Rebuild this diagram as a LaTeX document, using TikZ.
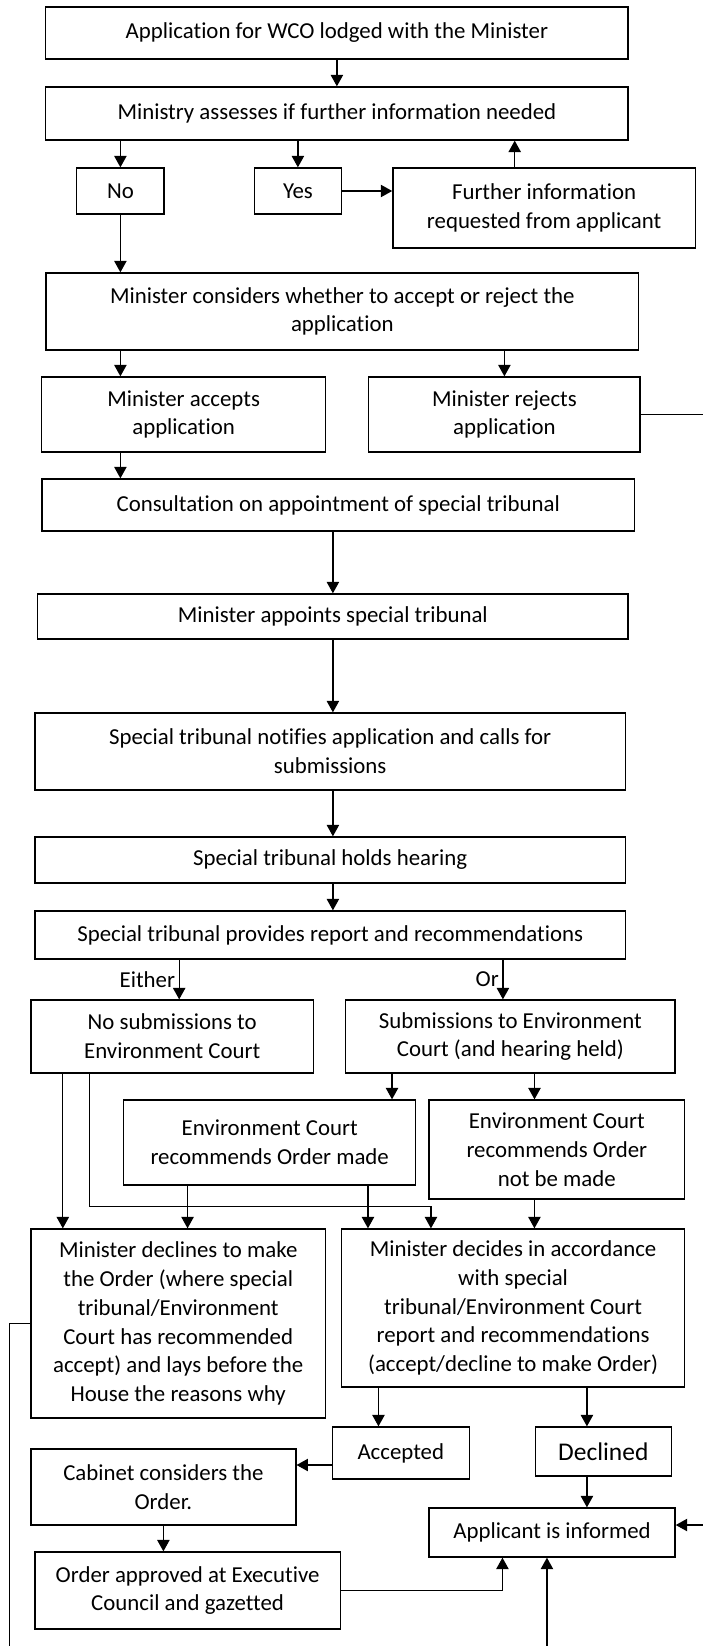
\documentclass[tikz,border=0pt]{standalone}
\usepackage{fontspec}
\setmainfont[Ligatures=NoCommon]{Carlito}
\usetikzlibrary{arrows.meta}

\begin{document}
\begin{tikzpicture}[x=0.02cm,y=-0.02cm,
  box/.style={draw,line width=0.75pt,align=center,inner sep=1pt,font=\fontsize{13}{16.4}\selectfont},
  lab/.style={font=\fontsize{13}{15}\selectfont,inner sep=2pt},
  arr/.style={line width=0.75pt,-{Triangle[width=7pt,length=6.5pt]}}]
\useasboundingbox (0,0) rectangle (703,1646);
\clip (0,0) rectangle (703,1646);

\node[box,minimum width=11.65cm,minimum height=1.04cm] (app) at (336.9,33) {Application for WCO lodged with the Minister};
\node[box,minimum width=11.65cm,minimum height=1.06cm] (assess) at (336.9,113.5) {Ministry assesses if further information needed};
\node[box,minimum width=1.75cm,minimum height=0.92cm] (no) at (120.4,191) {No};
\node[box,minimum width=1.75cm,minimum height=0.92cm] (yes) at (297.9,191) {Yes};
\node[box,minimum width=6.05cm,minimum height=1.60cm] (further) at (544.1,208) {Further information\\requested from applicant};
\node[box,minimum width=11.86cm,minimum height=1.54cm] (consider) at (342.3,311.5) {Minister considers whether to accept or reject the\\application};
\node[box,minimum width=5.68cm,minimum height=1.50cm] (accepts) at (183.6,414.5) {Minister accepts\\application};
\node[box,minimum width=5.43cm,minimum height=1.50cm] (rejects) at (504.4,414.5) {Minister rejects\\application};
\node[box,minimum width=11.86cm,minimum height=1.04cm] (consult) at (338.3,505) {Consultation on appointment of special tribunal};
\node[box,minimum width=11.81cm,minimum height=0.90cm] (appoint) at (332.9,616.5) {Minister appoints special tribunal};
\node[box,minimum width=11.81cm,minimum height=1.54cm] (notify) at (330.2,751.5) {Special tribunal notifies application and calls for\\submissions};
\node[box,minimum width=11.81cm,minimum height=0.92cm] (hearing) at (330.2,860) {Special tribunal holds hearing};
\node[box,minimum width=11.81cm,minimum height=0.96cm] (report) at (330.2,935) {Special tribunal provides report and recommendations};
\node[box,minimum width=5.65cm,minimum height=1.46cm] (nosub) at (172.2,1036.5) {No submissions to\\Environment Court};
\node[box,minimum width=6.59cm,minimum height=1.46cm] (sub) at (510.4,1036.5) {Submissions to Environment\\Court (and hearing held)};
\node[box,minimum width=5.84cm,minimum height=1.70cm] (ecmade) at (269.7,1142.5) {Environment Court\\recommends Order made};
\node[box,minimum width=5.11cm,minimum height=1.98cm] (ecnot) at (556.8,1149.5) {Environment Court\\recommends Order\\not be made};
\node[box,minimum width=5.89cm,minimum height=3.78cm] (declines) at (178.2,1323.5) {Minister declines to make\\the Order (where special\\tribunal/Environment\\Court has recommended\\accept) and lays before the\\House the reasons why};
\node[box,minimum width=6.86cm,minimum height=3.16cm] (decides) at (513.1,1308) {Minister decides in accordance\\with special\\tribunal/Environment Court\\report and recommendations\\(accept/decline to make Order)};
\node[box,minimum width=2.74cm,minimum height=1.04cm] (accepted) at (400.8,1453) {Accepted};
\node[box,minimum width=2.72cm,minimum height=0.98cm,font=\fontsize{14.5}{17}\selectfont] (declined) at (603.3,1451.5) {Declined};
\node[box,minimum width=5.30cm,minimum height=1.52cm] (cabinet) at (163.4,1487) {Cabinet considers the\\Order.};
\node[box,minimum width=6.11cm,minimum height=1.54cm] (order) at (187.6,1590.5) {Order approved at Executive\\Council and gazetted};
\node[box,minimum width=4.92cm,minimum height=0.98cm] (informed) at (552.1,1532.5) {Applicant is informed};

\coordinate (rbend) at (730,0);
\coordinate (lbend) at (9.4,1680);
\coordinate (fu) at ([xshift=2.45cm]further.north west);
\coordinate (ei) at ([xshift=0.14cm]nosub.north);
\coordinate (orr) at ([xshift=-0.15cm]sub.north);
\coordinate (ns1) at ([xshift=0.65cm]nosub.south west);
\coordinate (ns2) at ([xshift=1.18cm]nosub.south west);
\coordinate (s1) at ([xshift=0.94cm]sub.south west);
\coordinate (s2) at ([xshift=3.79cm]sub.south west);
\coordinate (em1) at ([xshift=1.29cm]ecmade.south west);
\coordinate (d2) at ([xshift=1.80cm]decides.north west);
\coordinate (em2) at ([xshift=0.54cm]decides.north west);
\coordinate (en) at ([xshift=3.87cm]decides.north west);
\coordinate (dc1) at ([xshift=0.75cm]decides.south west);
\coordinate (dc2) at ([xshift=4.92cm]decides.south west);
\coordinate (ac) at ([yshift=-0.24cm]accepted.west);
\coordinate (i1) at ([xshift=2.37cm]informed.south west);
\coordinate (i2) at ([xshift=1.48cm]informed.south west);
\coordinate (ie) at ([yshift=0.15cm]informed.east);

\draw[arr] (app.south) -- (assess.north);
\draw[arr] (assess.south -| no.north) -- (no.north);
\draw[arr] (assess.south -| yes.north) -- (yes.north);
\draw[arr] (yes.east) -- (further.west |- yes.east);
\draw[arr] (fu) -- (fu |- assess.south);
\draw[arr] (no.south) -- (no.south |- consider.north);
\draw[arr] (consider.south -| no.south) -- (accepts.north -| no.south);
\draw[arr] (consider.south -| rejects.north) -- (rejects.north);
\draw[arr] (accepts.south -| no.south) -- (consult.north -| no.south);
\draw[arr] (consult.south -| appoint.north) -- (appoint.north);
\draw[arr] (appoint.south) -- (appoint.south |- notify.north);
\draw[arr] (notify.south -| appoint.south) -- (hearing.north -| appoint.south);
\draw[arr] (hearing.south -| appoint.south) -- (report.north -| appoint.south);
\draw[arr] (ei |- report.south) -- node[lab,left] {Either} (ei);
\draw[arr] (orr |- report.south) -- node[lab,left] {Or} (orr);
\draw[arr] (s1) -- (s1 |- ecmade.north);
\draw[arr] (s2) -- (s2 |- ecnot.north);
\draw[arr] (ns1) -- (ns1 |- declines.north);
\draw[arr] (ns2) |- ([yshift=0.44cm]d2) -- (d2);
\draw[arr] (em1) -- (em1 |- declines.north);
\draw[arr] (em2 |- ecmade.south) -- (em2);
\draw[arr] (en |- ecnot.south) -- (en);
\draw[arr] (rejects.east) -- (rejects.east -| rbend) |- (ie);
\draw[arr] (declines.west) -| (lbend) -| (i1);
\draw[arr] (dc1) -- (dc1 |- accepted.north);
\draw[arr] (dc2) -- (dc2 |- declined.north);
\draw[arr] (ac) -- (ac -| cabinet.east);
\draw[arr] (cabinet.south) -- (cabinet.south |- order.north);
\draw[arr] (order.east) -| (i2);
\draw[arr] (dc2 |- declined.south) -- (dc2 |- informed.north);
\end{tikzpicture}
\end{document}
